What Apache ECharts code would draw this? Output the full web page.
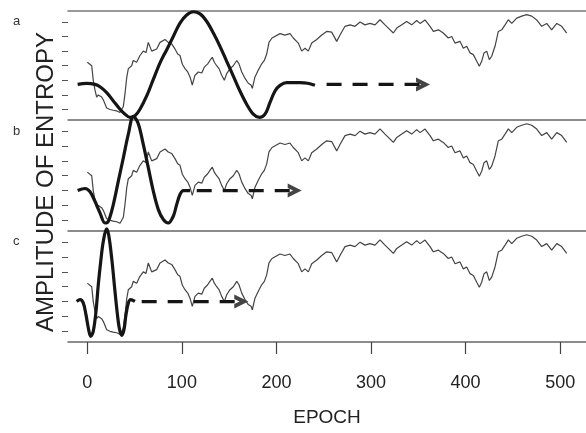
<!DOCTYPE html>
<html>
<head>
<meta charset="utf-8">
<title>Amplitude of entropy</title>
<script src="https://cdn.jsdelivr.net/npm/echarts@6/dist/echarts.min.js"></script>
<style>
    html, body { margin: 0; padding: 0; background: #fff; }
    #chart { width: 586px; height: 433px; }
</style>
</head>
<body>
<div id="chart"></div>
<script>
// thin entropy trace, identical in the three panels
var epoch = [0,4.7,6.3,8.1,9.9,11.6,15.2,16.9,20.5,24,
    27.5,31.1,34.6,38.1,39.9,41.7,43.4,46.9,48.6,52.2,
    55.7,59.2,62.1,64.5,66.3,68.1,73.4,76.9,78.7,82.2,
    85.6,89.2,92.7,95.6,98,100.5,103.3,106.2,108.6,111,
    113.9,117.4,121,123.7,127.3,129.7,132.2,134.3,136.8,139.3,
    142.1,144.9,147.4,150.9,154.4,158,160.4,163.3,166.8,170.2,
    173.1,174.5,177.3,180.8,184.4,187.2,189.7,192.1,195.3,203.8,
    209,214.3,217.8,223.1,226.7,230.2,233.7,237.3,242.6,247.9,
    253.1,258.4,263.7,267.2,272.5,277.8,283.1,288.4,293.6,298.9,
    304.2,309.5,314.8,318.3,323.6,327.2,332.5,337.7,343,348.3,
    351.8,357.1,362.4,365.9,371.2,376.4,381.7,385.3,388.8,394.1,
    397.6,401.2,404.7,408.2,411.8,414.5,417,419.5,422.3,425.1,
    427.6,431.1,434.6,438.2,441.7,445.2,448.8,454,459.3,464.6,
    469.9,475.2,480.5,485.8,491,496.4,501.6,506.9];
var entropy = [3.24,3.0,2.0,1.34,0.85,1.0,0.85,0.67,0.1,0,
    -0.05,-0.1,-0.2,0.2,1.1,2.2,2.8,3.0,3.36,3.24,
    3.7,4.0,3.9,4.6,4.5,4.0,4.15,4.6,4.5,4.8,
    4.6,4.5,4.15,3.8,3.7,3.1,2.8,2.57,2.23,1.68,
    2.35,2.57,2.5,2.9,3.13,3.36,3.58,3.24,3.0,2.8,
    2.35,2.0,2.46,2.8,3.0,3.36,3.13,2.57,2.13,1.8,
    1.68,1.45,2.23,2.7,3.13,3.36,3.8,4.6,4.9,5.2,
    5.1,5.2,4.9,4.55,4.0,4.2,4.0,4.55,4.8,5.1,
    5.35,5.3,4.67,5.1,5.7,5.8,5.7,6.0,5.8,5.9,
    5.8,6.15,5.8,5.58,5.24,5.58,5.8,6.03,5.8,6.1,
    5.9,6.14,5.7,5.35,5.46,5.24,4.9,5.0,4.55,4.67,
    4.2,4.33,3.88,3.76,3.3,2.97,3.3,3.88,4.0,3.42,
    3.65,4.33,5.35,5.46,5.8,6.15,5.9,6.26,6.4,6.5,
    6.4,6.14,5.7,5.9,5.46,5.9,5.7,5.24];

// wavelets [epoch, amplitude], one per panel
var waveA = [[-10.2,1.72],[-0.7,1.79],[8.1,1.72],[13.4,1.56],[20.5,1.16],[27.5,0.59],[34.6,0.02],
    [39.9,-0.32],[45.2,-0.54],[50.4,-0.43],[55.7,0.02],[62.8,0.93],[69.8,2.06],[76.9,3.2],[84,4.1],
    [90.9,5.0],[98,5.92],[105.1,6.48],[112.1,6.7],[119.2,6.55],[126.3,6.03],[133.3,5.24],[140.3,4.33],
    [147.4,3.3],[154.4,2.29],[161.4,1.27],[168.5,0.36],[175.5,-0.32],[181.9,-0.54],[187.9,-0.32],
    [193.2,0.48],[198.5,1.27],[203.8,1.65],[210.8,1.84],[224.9,1.84],[233,1.8],[240.7,1.66]];
var waveB = [[-10.2,2.0],[-2.4,2.14],[2.9,1.92],[8.1,1.28],[13.4,0.5],[18.7,-0.18],[22.2,-0.07],
    [27.5,1.06],[32.8,2.64],[38.1,4.2],[43.4,5.8],[48.8,7.0],[53.9,6.5],[59.2,5.11],[64.5,3.54],
    [69.8,1.96],[75.1,0.72],[80.4,0.05],[85.6,-0.18],[90.9,0.27],[94.5,1.06],[98,1.74],[101.5,2.0],[108.6,2.0]];
var waveC = [[-11.2,2.01],[-7.7,2.13],[-4.2,1.9],[-1.4,1.12],[1.1,0.22],[3.6,-0.34],[6.3,0],[9.2,1.34],
    [11.6,3.13],[14.2,4.7],[16.9,6.04],[20.3,6.9],[22.6,6.49],[25.8,4.92],[28.6,3.13],[31.1,1.56],
    [33.8,0.22],[36.4,-0.27],[38.8,0.11],[40.9,1.12],[43.4,1.9],[45.9,2.13],[50.4,2.01]];

// dashed arrows: start, end of dashes, tip
var dashA = [[253,1.72],[358,1.72]], tipA = [362.4,1.72];
var dashB = [[115.7,2.0],[222,2.0]], tipB = [226.7,2.0];
var dashC = [[57.5,2.0],[166,2.0]], tipC = [170.2,2.0];

var epochTicks = [0,100,200,300,400,500];
var ampTicks = [0,1,2,3,4,5,6];

var trace = epoch.map(function (e, i) { return [e, entropy[i]]; });
var chevron = 'path://M0,0 L13,6.5 L0,13 L0,8.8 L5,6.5 L0,4.2 Z';
var font = 'Liberation Sans';

var chart = echarts.init(document.getElementById('chart'), null, {renderer: 'canvas'});

var grids = [
    {left: 68, right: 0, top: 11, height: 109},
    {left: 68, right: 0, top: 120, height: 111},
    {left: 68, right: 0, top: 231, height: 111}
];

function xAx(i) {
    var last = i === 2;
    return {
        type: 'value', gridIndex: i, min: -20.4, max: 527.3,
        axisLine: {show: true, onZero: false, lineStyle: {color: '#666', width: 1.5}},
        axisTick: {show: last, customValues: epochTicks, length: 12, lineStyle: {color: '#444', width: 1.2}},
        axisLabel: {show: last, customValues: epochTicks, margin: 32, fontSize: 18, color: '#222', fontFamily: font},
        splitLine: {show: false},
        name: last ? 'EPOCH' : '', nameLocation: 'middle', nameGap: 66,
        nameTextStyle: {fontSize: 19, color: '#222', fontFamily: font}
    };
}

function yAx(i) {
    return {
        type: 'value', gridIndex: i, min: -0.72, max: 6.75, position: 'left',
        axisLine: {show: false, onZero: false},
        axisTick: {show: true, inside: false, customValues: ampTicks, length: 6, lineStyle: {color: '#555', width: 1}},
        axisLabel: {show: false},
        splitLine: {show: false}
    };
}

var xAxes = [xAx(0), xAx(1), xAx(2)];
// top border of panel a
xAxes.push({
    type: 'value', gridIndex: 0, position: 'top', min: -20.4, max: 527.3,
    axisLine: {show: true, onZero: false, lineStyle: {color: '#777', width: 1.5}},
    axisTick: {show: false}, axisLabel: {show: false}, splitLine: {show: false}
});

var waves = [waveA, waveB, waveC];
var dashes = [dashA, dashB, dashC];
var tips = [tipA, tipB, tipC];
var series = [];
for (var i = 0; i < 3; i++) {
    series.push({
        type: 'line', xAxisIndex: i, yAxisIndex: i, data: trace,
        showSymbol: false, silent: true,
        lineStyle: {color: '#444', width: 1.2}
    });
    series.push({
        type: 'line', xAxisIndex: i, yAxisIndex: i, data: waves[i],
        showSymbol: false, smooth: 0.35, clip: false, silent: true,
        lineStyle: {color: '#151515', width: 3.2}
    });
    series.push({
        type: 'line', xAxisIndex: i, yAxisIndex: i, data: dashes[i],
        showSymbol: false, silent: true,
        lineStyle: {color: '#151515', width: 3.4, type: [15, 11], cap: 'butt'}
    });
    series.push({
        type: 'scatter', xAxisIndex: i, yAxisIndex: i, data: [tips[i]],
        symbol: chevron, symbolSize: [14, 14], symbolOffset: [-7, 0], silent: true,
        itemStyle: {color: '#151515'}
    });
}

chart.setOption({
    animation: false,
    backgroundColor: '#fff',
    grid: grids,
    xAxis: xAxes,
    yAxis: [yAx(0), yAx(1), yAx(2)],
    series: series,
    graphic: [
        {type: 'text', left: 13, top: 15, style: {text: 'a', fontSize: 13, fill: '#333', fontFamily: font}},
        {type: 'text', left: 13, top: 125, style: {text: 'b', fontSize: 13, fill: '#333', fontFamily: font}},
        {type: 'text', left: 13, top: 235, style: {text: 'c', fontSize: 13, fill: '#333', fontFamily: font}},
        {type: 'text', x: 46, y: 182, rotation: Math.PI / 2,
            style: {text: 'AMPLITUDE OF ENTROPY', fontSize: 24, fill: '#222', fontFamily: font,
                align: 'center', verticalAlign: 'middle'}}
    ]
});
</script>
</body>
</html>
